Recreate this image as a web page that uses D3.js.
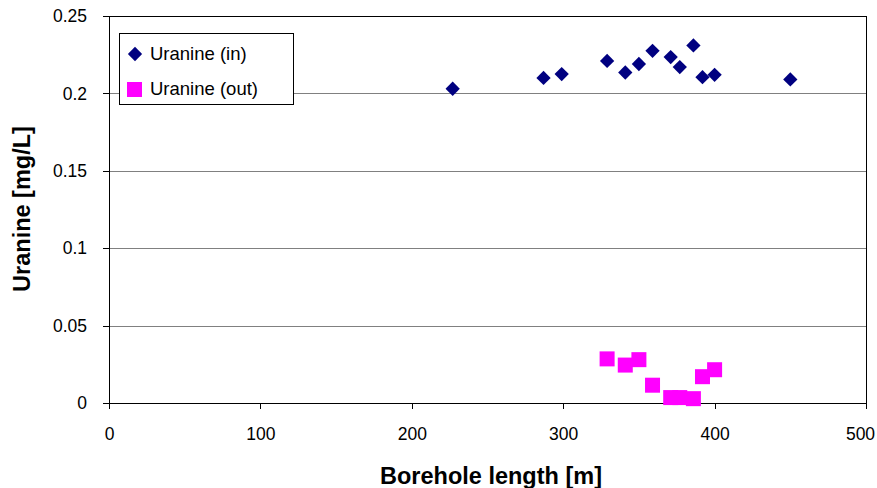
<!DOCTYPE html>
<html>
<head>
<meta charset="utf-8">
<script src="https://cdn.jsdelivr.net/npm/d3@7"></script>
<style>
  body { margin: 0; background: #fff; }
  svg { display: block; font-family: "Liberation Sans", Arial, sans-serif; }
  .axis path, .axis line { stroke: #000; shape-rendering: crispEdges; }
  .axis text { font-size: 17.5px; fill: #000; }
  .grid line { stroke: #808080; shape-rendering: crispEdges; }
  .title { font-weight: bold; font-size: 23.5px; }
</style>
</head>
<body>
<div id="chart"></div>
<script>
// borehole length [m] and uranine concentration [mg/L]
var lengthsIn = [227, 287, 299, 329, 341, 350, 359, 371, 377, 386, 392, 400, 450];
var uranineIn = [0.203, 0.210, 0.2125, 0.221, 0.2135, 0.219, 0.2275, 0.2235, 0.217, 0.231, 0.2105, 0.212, 0.209];
var lengthsOut = [329, 341, 350, 359, 371, 377, 386, 392, 400];
var uranineOut = [0.0285, 0.0245, 0.028, 0.0115, 0.0035, 0.0035, 0.0028, 0.017, 0.0215];
var xTicks = [0, 100, 200, 300, 400, 500];
var yTicks = [0, 0.05, 0.1, 0.15, 0.2, 0.25];
var seriesNames = ["Uranine (in)", "Uranine (out)"];

var width = 877, height = 488;
var margin = {top: 16, right: 11, bottom: 85, left: 109};
var w = width - margin.left - margin.right,
    h = height - margin.top - margin.bottom;

var svg = d3.select("#chart").append("svg")
  .attr("width", width)
  .attr("height", height);

var g = svg.append("g")
  .attr("transform", "translate(" + margin.left + "," + margin.top + ")");

var x = d3.scaleLinear().domain([0, 500]).range([0, w]);
var y = d3.scaleLinear().domain([0, 0.25]).range([h, 0]);

// horizontal gridlines
g.append("g").attr("class", "grid")
  .selectAll("line")
  .data(yTicks.slice(1, -1))
  .enter().append("line")
  .attr("x1", 0).attr("x2", w)
  .attr("y1", function(d) { return Math.round(y(d)) + 0.5; })
  .attr("y2", function(d) { return Math.round(y(d)) + 0.5; });

// plot border
g.append("rect")
  .attr("x", 0.5).attr("y", 0.5)
  .attr("width", w).attr("height", h)
  .attr("fill", "none").attr("stroke", "#000")
  .attr("shape-rendering", "crispEdges");

var xAxis = g.append("g").attr("class", "axis")
  .attr("transform", "translate(0," + h + ")")
  .call(d3.axisBottom(x).tickValues(xTicks).tickSize(6).tickPadding(19).tickSizeOuter(0));

// the last label is pulled in so it stays inside the picture
xAxis.selectAll(".tick text")
  .filter(function(d) { return d === 500; })
  .attr("dx", -6);

g.append("g").attr("class", "axis")
  .call(d3.axisLeft(y).tickValues(yTicks).tickSize(6).tickPadding(16).tickSizeOuter(0)
    .tickFormat(function(d) { return d3.format("")(+d.toFixed(2)); }));

// points
var diamond = d3.symbol().type(d3.symbolDiamond2).size(130);

g.append("g").selectAll("path")
  .data(lengthsIn.map(function(d, i) { return [d, uranineIn[i]]; }))
  .enter().append("path")
  .attr("d", diamond)
  .attr("fill", "#000080")
  .attr("transform", function(d) { return "translate(" + x(d[0]) + "," + y(d[1]) + ")"; });

g.append("g").selectAll("rect")
  .data(lengthsOut.map(function(d, i) { return [d, uranineOut[i]]; }))
  .enter().append("rect")
  .attr("width", 15).attr("height", 15)
  .attr("fill", "#ff00ff")
  .attr("x", function(d) { return x(d[0]) - 7.5; })
  .attr("y", function(d) { return y(d[1]) - 7.5; });

// legend
var legend = svg.append("g").attr("transform", "translate(119,33)");
legend.append("rect")
  .attr("x", 0.5).attr("y", 0.5)
  .attr("width", 174).attr("height", 71)
  .attr("fill", "#fff").attr("stroke", "#000")
  .attr("shape-rendering", "crispEdges");
legend.append("path")
  .attr("d", diamond)
  .attr("fill", "#000080")
  .attr("transform", "translate(16,21)");
legend.append("rect")
  .attr("x", 8).attr("y", 49).attr("width", 15).attr("height", 15)
  .attr("fill", "#ff00ff");
legend.selectAll("text")
  .data(seriesNames)
  .enter().append("text")
  .attr("x", 31)
  .attr("y", function(d, i) { return 21 + i * 35; })
  .attr("dy", "0.35em")
  .attr("font-size", "18.5px")
  .text(function(d) { return d; });

// axis titles
svg.append("text").attr("class", "title")
  .attr("x", 491).attr("y", 484)
  .attr("text-anchor", "middle")
  .text("Borehole length [m]");

svg.append("text").attr("class", "title")
  .attr("transform", "translate(30,209) rotate(-90)")
  .attr("text-anchor", "middle")
  .text("Uranine [mg/L]");
</script>
</body>
</html>
